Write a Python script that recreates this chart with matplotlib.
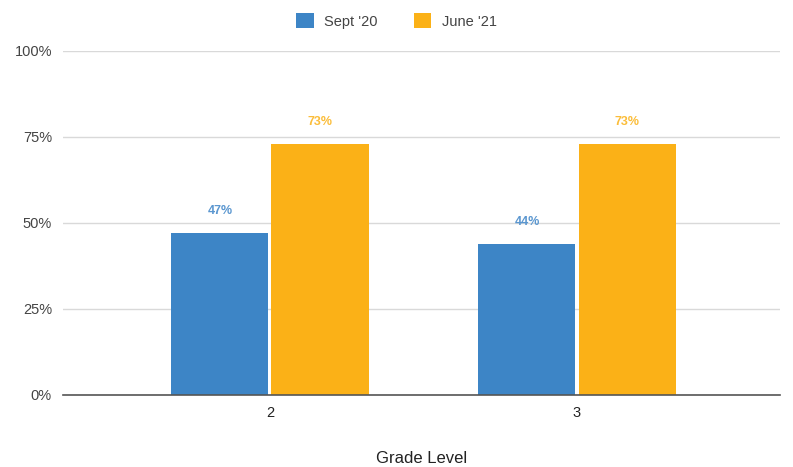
import matplotlib
matplotlib.use("Agg")
import matplotlib.pyplot as plt
import numpy as np

plt.rcParams["font.family"] = ["Liberation Sans", "DejaVu Sans"]

categories = ["2", "3"]
series_names = ["Sept '20", "June '21"]
sept_20 = [47, 44]
june_21 = [73, 73]
colors = ["#3D85C6", "#FBB117"]
label_colors = ["#5B97D0", "#FBBD3A"]
y_ticks = [0, 25, 50, 75, 100]
y_tick_labels = ["0%", "25%", "50%", "75%", "100%"]

W, H = 793, 467
fig = plt.figure(figsize=(W / 100, H / 100), dpi=100)
ax = fig.add_axes([63 / W, 1 - 395 / H, (780 - 63) / W, (395 - 51) / H])

x = np.arange(len(categories))
bw = 0.316
gap = 0.005
for i, (vals, c, lc, name) in enumerate(zip([sept_20, june_21], colors, label_colors, series_names)):
    offs = (-bw / 2 - gap) if i == 0 else (bw / 2 + gap)
    ax.bar(x + offs, vals, width=bw, color=c, label=name, zorder=3)
    for xi, v in zip(x + offs, vals):
        ax.text(xi, v + 4.6, f"{v}%", ha="center", va="bottom", color=lc,
                fontsize=9, fontweight="bold", zorder=4)

ax.set_xlim(-0.674, 1.661)
ax.set_ylim(0, 100)
ax.set_yticks(y_ticks)
ax.set_yticklabels(y_tick_labels)
ax.set_xticks(x)
ax.set_xticklabels(categories)
ax.grid(axis="y", color="#d9d9d9", linewidth=1, zorder=0)
for s in ["top", "right", "left"]:
    ax.spines[s].set_visible(False)
ax.spines["bottom"].set_color("#555555")
ax.spines["bottom"].set_linewidth(1.2)
ax.spines["bottom"].set_zorder(5)
ax.tick_params(axis="y", length=0, pad=8, labelsize=10.5, labelcolor="#444444")
ax.tick_params(axis="x", length=0, pad=8, labelsize=10.5, labelcolor="#222222")

ax.set_xlabel("Grade Level", fontsize=12, color="#222222", labelpad=22)

fig.legend(loc="upper center", bbox_to_anchor=(0.5, 1.0), ncol=2, frameon=False,
           fontsize=10.5, handlelength=1.2, handleheight=1.2, columnspacing=2.5,
           handletextpad=0.7, labelcolor="#444444")

fig.savefig("out.png", dpi=100)
